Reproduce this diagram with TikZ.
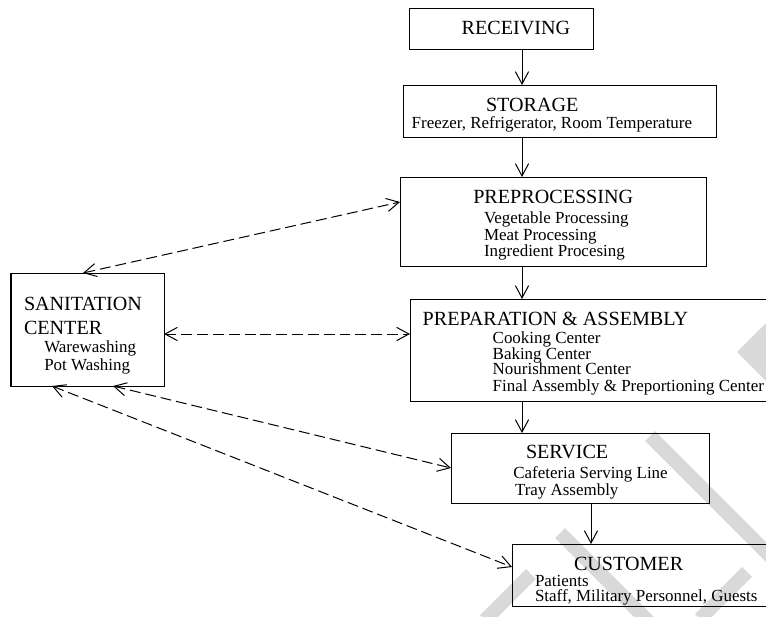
\documentclass[tikz,border=0pt]{standalone}
\usepackage{fontspec}
\setmainfont{Liberation Serif}
\usetikzlibrary{arrows.meta,calc,fit}

\tikzset{
  title/.style={font=\fontsize{11.45pt}{13pt}\selectfont},
  item/.style={font=\fontsize{9.65pt}{11pt}\selectfont}
}

\begin{document}
\begin{tikzpicture}[x=0.02cm,y=-0.02cm,line width=0.57pt,
    >={Straight Barb[length=7pt,width=7.5pt]}]
  \useasboundingbox (0,0) rectangle (766,616);

  % faint stripes behind everything
  \begin{scope}[gray!30, line width=0.28cm]
    \fill (737,352) -- (766,323) -- (766,381) -- cycle;
    \draw (650,436) -- (800,586);
    \draw (560,533) -- (650,623);
    \draw (531,574) -- (485,620);
    \draw (747,572) -- (700,619);
  \end{scope}

  \begin{scope}[every node/.style={draw,inner sep=0pt,outer sep=0pt}]
    \node (recv) [fit={(409,8) (593,49)}]   {};
    \node (stor) [fit={(403,85) (716,137)}] {};
    \node (pre)  [fit={(400,177) (706,266)}] {};
    \node (prep) [fit={(410,299) (772,401)}] {};
    \node (serv) [fit={(451,433) (709,503)}] {};
    \node (cust) [fit={(512,544) (772,606)}] {};
    \node (san)  [fit={(11,273) (164,386)}]  {};
  \end{scope}

  \begin{scope}[every node/.style={anchor=base west,inner sep=0pt,outer sep=0pt}]
    \node[title] (recv-t) at (461.7,34.3) {RECEIVING};

    \node[title] (stor-t) at (486,111)    {STORAGE};
    \node[item]  (stor-a) at (411.7,128.3) {Freezer, Refrigerator, Room Temperature};

    \node[title] (pre-t) at (473.3,203.3) {PREPROCESSING};
    \node[item]  (pre-a) at (484,223.3)   {Vegetable Processing};
    \node[item]  (pre-b) at (484,240)     {Meat Processing};
    \node[item]  (pre-c) at (484,256.7)   {Ingredient Procesing};

    \node[title] (prep-t) at (422.7,325)   {PREPARATION \& ASSEMBLY};
    \node[item]  (prep-a) at (492.7,343.3) {Cooking Center};
    \node[item]  (prep-b) at (492.7,359)   {Baking Center};
    \node[item]  (prep-c) at (492.7,374.3) {Nourishment Center};
    \node[item]  (prep-d) at (492.7,391.7) {Final Assembly \& Preportioning Center};

    \node[title] (serv-t) at (526,458.3)   {SERVICE};
    \node[item]  (serv-a) at (513.3,478.3) {Cafeteria Serving Line};
    \node[item]  (serv-b) at (515,495)     {Tray Assembly};

    \node[title] (cust-t) at (574,570)     {CUSTOMER};
    \node[item]  (cust-a) at (535,586)     {Patients};
    \node[item]  (cust-b) at (535,601.7)   {Staff, Military Personnel, Guests};

    \node[title] (san-t) at (24,310)       {SANITATION};
    \node[title] (san-u) at (24,334)       {CENTER};
    \node[item]  (san-a) at (44.3,352.7)   {Warewashing};
    \node[item]  (san-b) at (44.3,370)     {Pot Washing};
  \end{scope}

  % main flow
  \coordinate (spine)  at (522,0);
  \coordinate (spine2) at (591,0);
  \draw[->] (recv.south -| spine) -- (stor.north -| spine);
  \draw[->] (stor.south -| spine) -- (pre.north -| spine);
  \draw[->] (pre.south -| spine)  -- (prep.north -| spine);
  \draw[->] (prep.south -| spine) -- (serv.north -| spine);
  \draw[->] (serv.south -| spine2) -- (cust.north -| spine2);

  % sanitation links
  \begin{scope}[<->, dash pattern=on 6.2pt off 2.8pt]
    \draw ($(san.north)+(-4.5,0)$) -- ($(pre.west)+(0,-19.5)$);
    \draw ($(san.east)+(0,4.5)$)   -- ($(prep.west |- san.east)+(0,4.5)$);
    \draw ($(san.south)+(25.5,0)$) -- (serv.west);
    \draw ($(san.south)+(-35.5,0)$) -- ($(cust.west)+(0,-8)$);
  \end{scope}

\end{tikzpicture}
\end{document}
